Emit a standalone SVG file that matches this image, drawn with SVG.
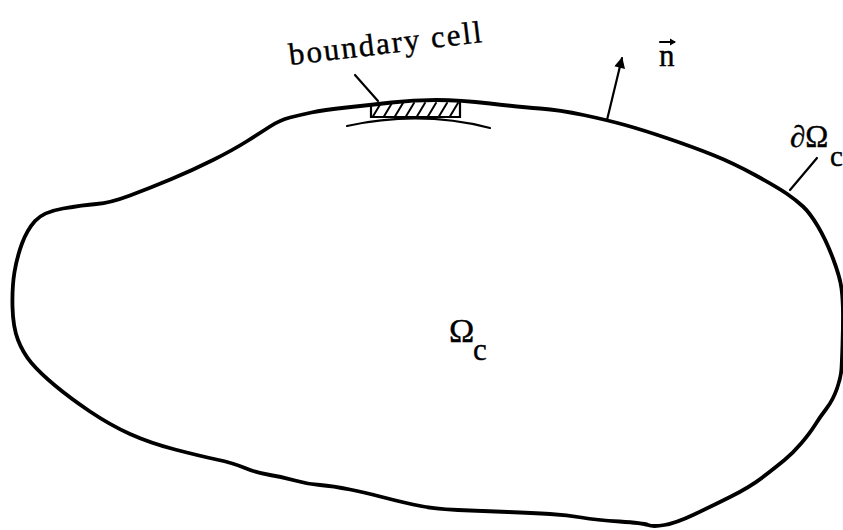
<svg xmlns="http://www.w3.org/2000/svg" width="843" height="530" viewBox="0 0 843 530">
<style>
.ol{fill:none;stroke:#000;stroke-width:3.8;stroke-linejoin:round;stroke-linecap:round}
.ln{fill:none;stroke:#000;stroke-width:2.2;stroke-linecap:round}
.ht{fill:none;stroke:#000;stroke-width:2;stroke-linecap:round}
.tx{font-family:"Liberation Serif","Times New Roman",serif;fill:#000;stroke:#000;stroke-width:0.4}
</style>
<defs>
<marker id="ah" viewBox="0 0 10 10" refX="9" refY="5" markerWidth="6" markerHeight="5" orient="auto" markerUnits="strokeWidth">
<path d="M0,0 L10,5 L0,10 Z" fill="#000"/>
</marker>
<clipPath id="cellclip"><path d="M371,105 L413,100 L460,100 L460,117 L371,117 Z"/></clipPath>
</defs>
<rect width="843" height="530" fill="#fff"/>
<g id="region">
<path class="ol" d="M35,221 Q43,212 63,208.5 Q83,205 96.5,204 Q110,203 130,195.5 Q150,188 171.5,179 Q193,170 213,160 Q233,150 246.5,141.5 Q260,133 270,126.5 Q280,120 290,117.5 Q300,115 311.5,112.5 Q323,110 346.5,107.5 Q370,105 391.5,102.5 Q413,100 436.5,100 Q460,100 490,103.5 Q520,107 540,108.5 Q560,110 583.5,115 Q607,120 625,125 Q643,130 668,138.5 Q693,147 713,155 Q733,163 755,175 Q777,187 786.5,193.5 Q796,200 803,206.5 Q810,213 818,226.5 Q826,240 833,258.5 Q840,277 841.5,288.5 Q843,300 843,315 Q843,330 842.5,345 Q842,360 841.5,368.5 Q841,377 837,388.5 Q833,400 826.5,408.5 Q820,417 815,425 Q810,433 801.5,443 Q793,453 784.5,460 Q776,467 763,477 Q750,487 730,497 Q710,507 693,515 Q676,523 664.5,525 Q653,527 648,525 Q643,523 619.5,521.5 Q596,520 581.5,517.5 Q567,515 550,514 Q533,513 508,512 Q483,511 458,510 Q433,509 413,504.5 Q393,500 380,496.5 Q367,493 350,489.5 Q333,486 320,485 Q307,484 295,480.5 Q283,477 270,475 Q257,473 245,468 Q233,463 216.5,459.5 Q200,456 175,449.5 Q150,443 130,434 Q110,425 90,411.5 Q70,398 55,385.5 Q40,373 31.5,363 Q23,353 18,340 Q13,327 12.5,307 Q12,287 14.5,272 Q17,257 22,243.5 Q27,230 35,221 Z"/>
<text class="tx" x="449" y="342" font-size="34">Ω</text>
<text class="tx" x="473" y="360" font-size="31">c</text>
</g>
<g id="boundary-cell">
<path class="ln" d="M371,105 L371,117 L460,117 L460,100"/>
<path class="ln" d="M347,126 Q420,110 490,128"/>
<g clip-path="url(#cellclip)">
<path class="ht" d="M372,118 L381,103 M383,118 L392,103 M394,118 L403,103 M405,118 L414,103 M416,118 L425,103 M427,118 L436,103 M438,118 L447,103 M449,118 L458,103"/>
</g>
<text class="tx" font-size="31" transform="translate(290,65) rotate(-6.8)" textLength="194" lengthAdjust="spacing">boundary cell</text>
</g>
<g id="normal-label">
<text class="tx" x="659" y="66" font-size="31">n</text>
<path class="ln" d="M660,42 L674,42" stroke-width="1.8"/>
<path d="M670,38.5 L676,42 L670,45.5 Z" fill="#000"/>
</g>
<g id="boundary-label">
<text class="tx" x="790" y="147" font-size="31">∂Ω</text>
<text class="tx" x="830" y="166" font-size="29">c</text>
</g>
<g id="connectors">
<path class="ln" d="M355,75 L378,101"/>
<path class="ln" d="M607,120 L622,58" marker-end="url(#ah)"/>
<path class="ln" d="M817,158 L790,190"/>
</g>
</svg>
